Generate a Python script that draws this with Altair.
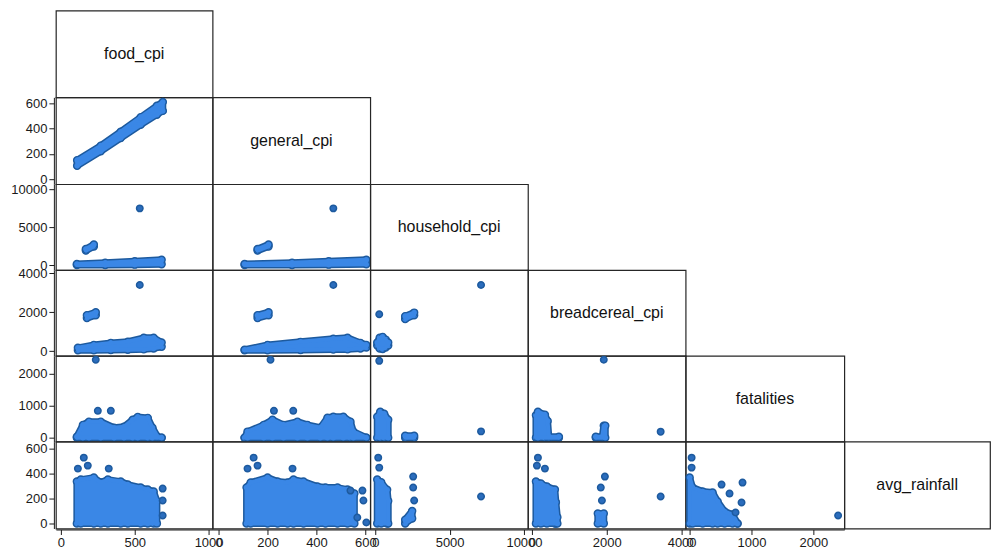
import altair as alt
import pandas as pd

VARS = ["food_cpi", "general_cpi", "household_cpi", "breadcereal_cpi", "fatalities", "avg_rainfall"]

# scale domains when a variable sits on a column (x) or on a row (y)
X_DOMAIN = {
    "food_cpi": [-34, 1027],
    "general_cpi": [-25, 620],
    "household_cpi": [-336, 10268],
    "breadcereal_cpi": [-107, 4107],
    "fatalities": [-65, 2500],
    "avg_rainfall": [-40, 656],
}
Y_DOMAIN = {
    "food_cpi": [-40, 650],
    "general_cpi": [-40, 647],
    "household_cpi": [-658, 10658],
    "breadcereal_cpi": [-230, 4158],
    "fatalities": [-125, 2562],
    "avg_rainfall": [-40, 656],
}
TICKS = {
    "food_cpi": [0, 500, 1000],
    "general_cpi": [0, 200, 400, 600],
    "household_cpi": [0, 5000, 10000],
    "breadcereal_cpi": [0, 2000, 4000],
    "fatalities": [0, 1000, 2000],
    "avg_rainfall": [0, 200, 400, 600],
}

COL_WIDTHS = [157, 158, 158, 158, 159, 146]
ROW_HEIGHTS = [87, 87, 86, 86, 86, 87]

# Dense point clouds are outlined as bands (x, lower edge, upper edge);
# isolated observations are listed as single points (x, y).
food_general_blobs = [
    ([110, 270, 405, 540, 650, 690], [105, 220, 325, 430, 510, 540], [150, 265, 375, 490, 580, 610]),
]
food_general_dots = ([], [])

food_household_blobs = [
    ([108, 300, 500, 682], [0, 0, 50, 100], [130, 300, 500, 700]),
    ([169, 223], [1900, 2450], [2100, 2700]),
]
food_household_dots = ([534], [7470])

general_household_blobs = [
    ([106, 300, 450, 604], [0, 0, 50, 100], [130, 300, 500, 700]),
    ([159, 204], [1900, 2450], [2100, 2700]),
]
general_household_dots = ([469], [7470])

food_bread_blobs = [
    ([115, 223, 338, 453, 561, 628, 682], [60, 60, 70, 80, 100, 150, 230], [180, 330, 430, 490, 690, 690, 450]),
    ([176, 236], [1700, 1850], [1850, 2000]),
]
food_bread_dots = ([534], [3393])

general_bread_blobs = [
    ([106, 200, 335, 469, 527, 580, 604], [50, 60, 70, 90, 100, 150, 200], [80, 330, 485, 640, 690, 430, 330]),
    ([159, 204], [1700, 1850], [1850, 2000]),
]
general_bread_dots = ([469], [3393])

household_bread_blobs = [
    ([134, 300, 500, 700, 872], [300, 150, 120, 200, 300], [450, 700, 740, 600, 450]),
    ([2013, 2617], [1650, 1850], [1800, 1980]),
]
household_bread_dots = ([268, 7114], [1898, 3393])

food_fatal_blobs = [
    ([108, 149, 190, 270, 360, 427, 486, 520, 588, 620, 655, 682],
     [0, 0, 0, 0, 0, 0, 0, 0, 0, 0, 0, 0],
     [30, 400, 500, 500, 310, 340, 560, 650, 620, 310, 30, 0]),
]
food_fatal_dots = ([236, 250, 338], [2440, 840, 840])

general_fatal_blobs = [
    ([106, 118, 184, 220, 265, 322, 363, 416, 445, 469, 510, 539, 551, 604],
     [0, 0, 0, 0, 0, 0, 0, 0, 0, 0, 0, 0, 0, 0],
     [0, 190, 400, 560, 400, 500, 400, 310, 625, 656, 656, 500, 190, 0]),
]
general_fatal_dots = ([212, 226, 305], [2440, 840, 840])

household_fatal_blobs = [
    ([134, 336, 600, 872], [0, 0, 0, 0], [656, 812, 750, 560]),
    ([2013, 2617], [0, 0], [60, 60]),
]
household_fatal_dots = ([268, 7114], [2406, 197])

bread_fatal_blobs = [
    ([107, 160, 347, 420, 450, 720], [0, 0, 0, 0, 0, 0], [700, 810, 720, 520, 40, 30]),
    ([1707, 1880, 1920, 1960], [0, 0, 0, 0], [30, 30, 375, 375]),
]
bread_fatal_dots = ([1920, 3440], [2438, 188])

food_rain_blobs = [
    ([108, 135, 223, 270, 318, 405, 453, 540, 588, 628, 650],
     [0, 0, 0, 0, 0, 0, 0, 0, 0, 0, 0],
     [336, 352, 368, 328, 352, 336, 312, 288, 272, 256, 180]),
]
food_rain_dots = ([155, 115, 182, 324, 689, 689, 689], [528, 440, 464, 440, 280, 184, 64])

general_rain_blobs = [
    ([114, 131, 200, 241, 282, 306, 347, 404, 437, 486, 527, 555],
     [0, 0, 0, 0, 0, 0, 0, 0, 0, 0, 0, 0],
     [288, 328, 368, 336, 328, 352, 336, 296, 288, 288, 272, 240]),
]
general_rain_dots = ([143, 159, 118, 302, 539, 588, 592, 567, 604], [528, 464, 440, 440, 264, 264, 184, 48, 8])

household_rain_blobs = [
    ([134, 400, 800, 872], [0, 0, 0, 0], [352, 330, 270, 180]),
    ([2013, 2483], [0, 40], [30, 100]),
]
household_rain_dots = ([200, 268, 2550, 2550, 2617, 7114], [528, 448, 376, 288, 184, 216])

bread_rain_blobs = [
    ([107, 240, 400, 613, 640, 680], [0, 0, 0, 0, 0, 0], [336, 320, 296, 272, 170, 50]),
    ([1760, 1920], [0, 0], [80, 80]),
]
bread_rain_dots = ([160, 133, 347, 1950, 1840, 1870, 3440], [528, 464, 440, 376, 288, 184, 216])

fatal_rain_blobs = [
    ([0, 48, 210, 371, 452, 565, 694, 774], [0, 0, 0, 0, 0, 0, 0, 0], [368, 288, 256, 248, 176, 96, 72, 0]),
]
fatal_rain_dots = ([32, 32, 516, 645, 855, 839, 742, 2400], [528, 448, 312, 240, 328, 168, 88, 64])

PANELS = {
    (1, 0): (food_general_blobs, food_general_dots),
    (2, 0): (food_household_blobs, food_household_dots),
    (2, 1): (general_household_blobs, general_household_dots),
    (3, 0): (food_bread_blobs, food_bread_dots),
    (3, 1): (general_bread_blobs, general_bread_dots),
    (3, 2): (household_bread_blobs, household_bread_dots),
    (4, 0): (food_fatal_blobs, food_fatal_dots),
    (4, 1): (general_fatal_blobs, general_fatal_dots),
    (4, 2): (household_fatal_blobs, household_fatal_dots),
    (4, 3): (bread_fatal_blobs, bread_fatal_dots),
    (5, 0): (food_rain_blobs, food_rain_dots),
    (5, 1): (general_rain_blobs, general_rain_dots),
    (5, 2): (household_rain_blobs, household_rain_dots),
    (5, 3): (bread_rain_blobs, bread_rain_dots),
    (5, 4): (fatal_rain_blobs, fatal_rain_dots),
}

FONT = "Liberation Sans"
LIGHT = "#3a87e6"
DARK = "#1d5a9e"
DOT_FILL = "#2b6dbd"
FRAME = "#262626"


def band_table(blobs):
    rows = []
    for i, (xs, lo, hi) in enumerate(blobs):
        for x, a, b in zip(xs, lo, hi):
            rows.append({"blob": i, "x": x, "lo": a, "hi": b})
    return pd.DataFrame(rows)


def edge_table(blobs):
    rows = []
    for xs, lo, hi in blobs:
        for x, a, b in zip(xs, lo, hi):
            rows.append({"x": x, "y": a})
            rows.append({"x": x, "y": b})
    return pd.DataFrame(rows)


def x_enc(field, var, show):
    axis = alt.Axis(values=TICKS[var], format="d", offset=1, labelFlush=False,
                    labelOverlap=False, title=None) if show else None
    return alt.X(f"{field}:Q", scale=alt.Scale(domain=X_DOMAIN[var], nice=False, zero=False),
                 axis=axis, title=None)


def y_enc(field, var, show):
    axis = alt.Axis(values=TICKS[var], format="d", offset=2, labelFlush=False,
                    labelOverlap=False, title=None) if show else None
    return alt.Y(f"{field}:Q", scale=alt.Scale(domain=Y_DOMAIN[var], nice=False, zero=False),
                 axis=axis, title=None)


def scatter_cell(r, c):
    xv, yv = VARS[c], VARS[r]
    show_x, show_y = r == 5, c == 0
    blobs, (dx, dy) = PANELS[(r, c)]
    bands = band_table(blobs)
    edges = edge_table(blobs)

    # dark rim of each cloud, then marker bumps along its edges, then the light body
    outline = alt.Chart(bands).mark_area(
        fill=DARK, stroke=DARK, strokeWidth=7, strokeJoin="round", opacity=1
    ).encode(x=x_enc("x", xv, show_x), y=y_enc("hi", yv, show_y), y2="lo", detail="blob:N")
    rim = alt.Chart(edges).mark_circle(
        fill=LIGHT, stroke=DARK, strokeWidth=1.4, size=50, opacity=1
    ).encode(x=x_enc("x", xv, show_x), y=y_enc("y", yv, show_y))
    body = alt.Chart(bands).mark_area(
        fill=LIGHT, stroke=LIGHT, strokeWidth=4, strokeJoin="round", opacity=1
    ).encode(x=x_enc("x", xv, show_x), y=y_enc("hi", yv, show_y), y2="lo", detail="blob:N")
    layers = [outline, rim, body]
    if dx:
        dots = alt.Chart(pd.DataFrame({"x": dx, "y": dy})).mark_circle(
            fill=DOT_FILL, stroke=DARK, strokeWidth=1.5, size=42, opacity=1
        ).encode(x=x_enc("x", xv, show_x), y=y_enc("y", yv, show_y))
        layers.append(dots)
    return alt.layer(*layers).properties(width=COL_WIDTHS[c], height=ROW_HEIGHTS[r])


def name_cell(i):
    w, h = COL_WIDTHS[i], ROW_HEIGHTS[i]
    return alt.Chart(pd.DataFrame({"name": [VARS[i]]})).mark_text(
        font=FONT, fontSize=16, color="#111111", align="center", baseline="middle"
    ).encode(x=alt.value(w / 2), y=alt.value(h / 2), text="name:N").properties(width=w, height=h)


def blank_cell(r, c):
    return alt.Chart(pd.DataFrame({"v": [0]})).mark_point(opacity=0).encode(
        x=alt.X("v:Q", axis=None), y=alt.Y("v:Q", axis=None)
    ).properties(width=COL_WIDTHS[c], height=ROW_HEIGHTS[r],
                 view=alt.ViewBackground(stroke="transparent"))


cells = []
for r in range(6):
    for c in range(6):
        if r == c:
            cells.append(name_cell(r))
        elif r > c:
            cells.append(scatter_cell(r, c))
        else:
            cells.append(blank_cell(r, c))

chart = alt.concat(*cells, columns=6, spacing=0, bounds="flush").properties(
    padding={"left": 10, "top": 9, "right": 0, "bottom": 0},
    background="white",
).configure_view(
    stroke=FRAME, strokeWidth=1.2
).configure_axis(
    labelFont=FONT, labelFontSize=13, labelColor="#1a1a1a", tickColor="#1a1a1a",
    domainColor="#1a1a1a", tickSize=5, labelPadding=2, grid=False,
)

chart.save("out.html", embed_options={"renderer": "svg", "actions": False})
